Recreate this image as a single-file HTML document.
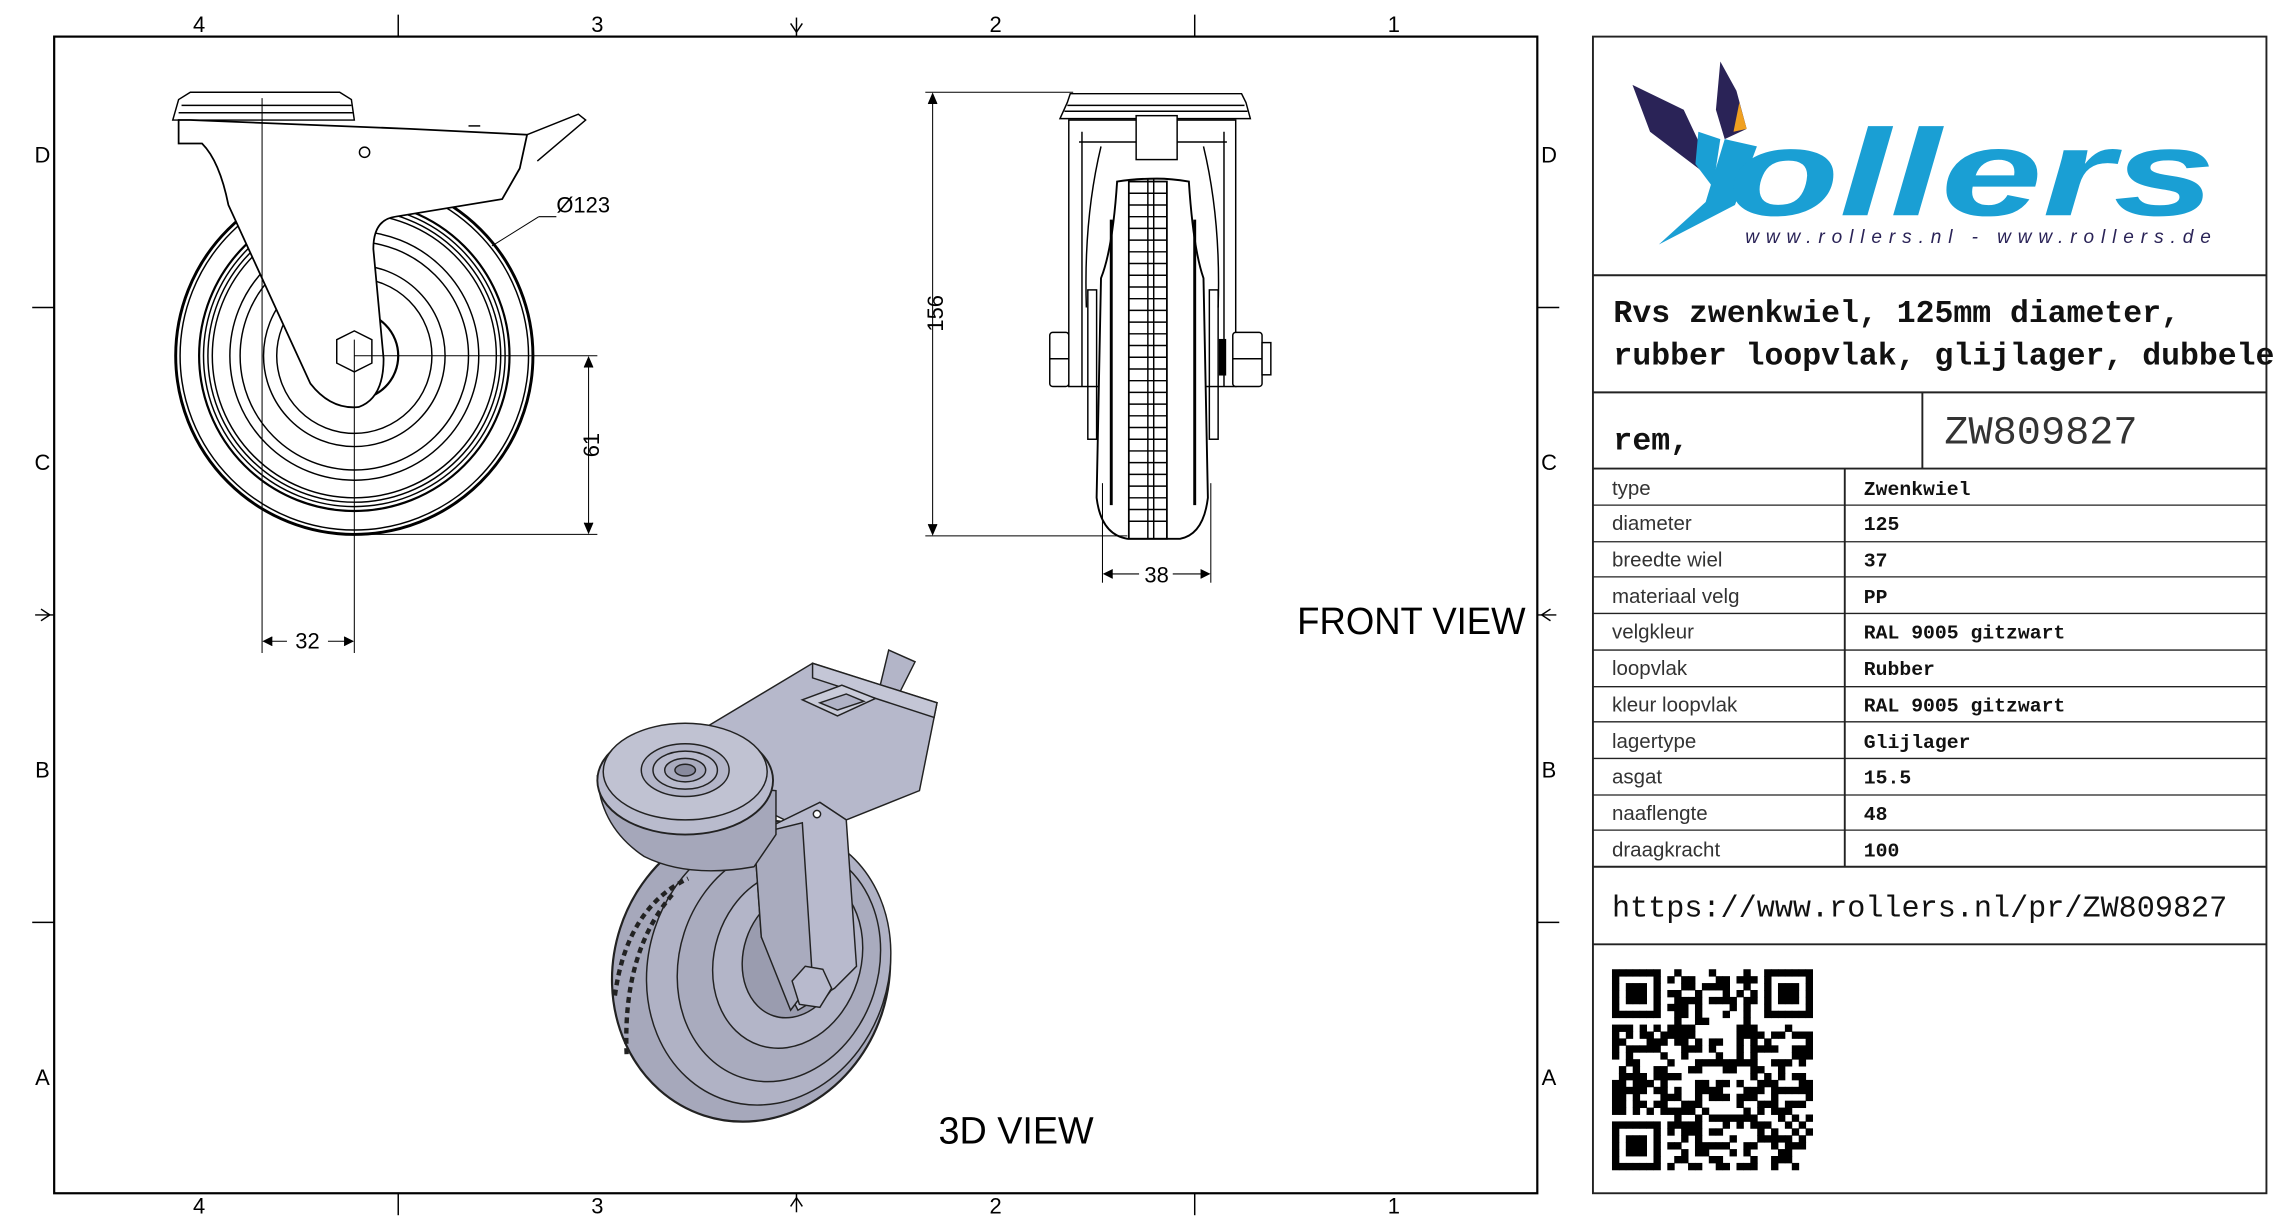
<!DOCTYPE html>
<html><head><meta charset="utf-8"><style>
html,body{margin:0;padding:0;background:#fff;}
svg{display:block;}
</style></head><body>
<svg xmlns="http://www.w3.org/2000/svg" width="2284" height="1224" viewBox="0 0 1560 836" preserveAspectRatio="none">
<rect width="1560" height="836" fill="#fff"/>
<!-- frame -->
<g stroke="#000" fill="none">
<rect x="37" y="25" width="1013" height="790" stroke-width="1.5"/>
<line x1="272" y1="10" x2="272" y2="25"/><line x1="816" y1="10" x2="816" y2="25"/>
<line x1="272" y1="815" x2="272" y2="830"/><line x1="816" y1="815" x2="816" y2="830"/>
<line x1="22" y1="210" x2="37" y2="210"/><line x1="22" y1="630" x2="37" y2="630"/>
<line x1="1050" y1="210" x2="1065" y2="210"/><line x1="1050" y1="630" x2="1065" y2="630"/>
<line x1="544" y1="12" x2="544" y2="25"/><path d="M540,16 L544,22 L548,16"/>
<line x1="544" y1="815" x2="544" y2="828"/><path d="M540,824 L544,818 L548,824"/>
<line x1="24" y1="420" x2="37" y2="420"/><path d="M28,416 L34,420 L28,424"/>
<line x1="1050" y1="420" x2="1063" y2="420"/><path d="M1059,416 L1053,420 L1059,424"/>
</g>
<g font-family="Liberation Sans, sans-serif" font-size="15" fill="#000" text-anchor="middle">
<text x="136" y="22">4</text><text x="408" y="22">3</text><text x="680" y="22">2</text><text x="952" y="22">1</text>
<text x="136" y="829">4</text><text x="408" y="829">3</text><text x="680" y="829">2</text><text x="952" y="829">1</text>
<text x="29" y="111">D</text><text x="29" y="321">C</text><text x="29" y="531">B</text><text x="29" y="741">A</text>
<text x="1058" y="111">D</text><text x="1058" y="321">C</text><text x="1058" y="531">B</text><text x="1058" y="741">A</text>
</g>

<!-- side view -->
<g stroke="#000" fill="none" stroke-width="1">
<circle cx="242" cy="243" r="122" stroke-width="2"/>
<circle cx="242" cy="243" r="119"/>
<circle cx="242" cy="243" r="106" stroke-width="1.5"/>
<circle cx="242" cy="243" r="103"/><circle cx="242" cy="243" r="100"/><circle cx="242" cy="243" r="97"/>
<circle cx="242" cy="243" r="85"/><circle cx="242" cy="243" r="78"/>
<circle cx="242" cy="243" r="62"/><circle cx="242" cy="243" r="53"/>
<circle cx="242" cy="243" r="30" stroke-width="1.5"/>
<path d="M118,82 L122,68 L130,63 L232,63 L240,68 L242,82 Z" fill="#fff"/>
<line x1="124" y1="72" x2="240" y2="72"/><line x1="122" y1="77" x2="241" y2="77"/>
<path d="M122,82 L122,98 L138,98 Q150,110 156,140 L212,262 Q226,280 245,278 Q262,272 262,245 L255,170 Q255,150 270,148 L343,136 L355,115 L360,92 L280,88 L130,82 Z" fill="#fff" stroke-width="1.2"/>
<path d="M360,92 L395,78 L400,82 L367,110"/>
<polygon points="230,232 242,226 254,232 254,248 242,254 230,248" fill="#fff"/>
<circle cx="249" cy="104" r="3.5"/>
<line x1="320" y1="86" x2="328" y2="86"/>
</g>
<g stroke="#000" stroke-width="0.7" fill="none">
<line x1="179" y1="67" x2="179" y2="446"/>
<line x1="242" y1="232" x2="242" y2="446"/>
<line x1="242" y1="243" x2="408" y2="243"/>
<line x1="242" y1="365" x2="408" y2="365"/>
<line x1="402" y1="245" x2="402" y2="363"/>
<path d="M399,251 L402,244 L405,251 M399,357 L402,364 L405,357" fill="#000"/>
<line x1="180" y1="438" x2="196" y2="438"/><line x1="224" y1="438" x2="241" y2="438"/>
<path d="M186,435 L180,438 L186,441 M235,435 L241,438 L235,441" fill="#000"/>
<line x1="336" y1="168" x2="368" y2="148"/><line x1="368" y1="148" x2="380" y2="148"/>
</g>
<g font-family="Liberation Sans, sans-serif" font-size="15" fill="#000">
<text x="380" y="145">Ø123</text>
<text x="210" y="443" text-anchor="middle">32</text>
<text transform="translate(409,304) rotate(-90)" text-anchor="middle">61</text>
</g>

<!-- front view -->
<g stroke="#000" fill="none" stroke-width="1">
<path d="M724,81 L729,70 L731,64 L848,64 L851,70 L854,81 Z" fill="#fff"/>
<line x1="729" y1="72" x2="850" y2="72"/><line x1="727" y1="76" x2="852" y2="76"/>
<rect x="730" y="82" width="114" height="182"/>
<line x1="739" y1="90" x2="739" y2="264"/><line x1="836" y1="90" x2="836" y2="264"/>
<line x1="737" y1="97" x2="838" y2="97"/>
<path d="M752,100 Q740,150 742,210 M822,100 Q834,150 832,210"/>
<rect x="776" y="79" width="28" height="30" fill="#fff"/>
<path d="M763,124 Q760,170 752,190 L749,340 Q752,365 770,368 L806,368 Q822,365 825,340 L822,190 Q815,170 812,124 Q800,122 790,122 Q775,122 763,124 Z" fill="#fff" stroke-width="1.3"/>
<line x1="759" y1="150" x2="759" y2="345" stroke-width="2"/>
<line x1="816" y1="150" x2="816" y2="345" stroke-width="2"/>
<rect x="771" y="124" width="26" height="244" stroke-width="1.2"/>
<line x1="784" y1="122" x2="784" y2="368"/><line x1="788" y1="122" x2="788" y2="368"/>
<rect x="743" y="198" width="6" height="102"/><rect x="826" y="198" width="6" height="102"/>
<rect x="717" y="227" width="13" height="37" rx="2" fill="#fff"/>
<line x1="717" y1="245" x2="730" y2="245"/>
<rect x="842" y="227" width="20" height="37" rx="2" fill="#fff"/>
<rect x="862" y="234" width="6" height="22" fill="#fff"/>
<line x1="842" y1="245" x2="862" y2="245"/>
<rect x="833" y="232" width="4" height="24" fill="#000"/>
</g>
<g stroke="#000" stroke-width="1">
<path d="M771,132 H797 M771,140 H797 M771,148 H797 M771,156 H797 M771,164 H797 M771,172 H797 M771,180 H797 M771,188 H797 M771,196 H797 M771,204 H797 M771,212 H797 M771,220 H797 M771,228 H797 M771,236 H797 M771,244 H797 M771,252 H797 M771,260 H797 M771,268 H797 M771,276 H797 M771,284 H797 M771,292 H797 M771,300 H797 M771,308 H797 M771,316 H797 M771,324 H797 M771,332 H797 M771,340 H797 M771,348 H797 M771,356 H797"/>
</g>
<g stroke="#000" stroke-width="0.7" fill="none">
<line x1="632" y1="63" x2="733" y2="63"/>
<line x1="632" y1="366" x2="770" y2="366"/>
<line x1="637" y1="65" x2="637" y2="364"/>
<path d="M634,71 L637,64 L640,71 M634,358 L637,365 L640,358" fill="#000"/>
<line x1="753" y1="330" x2="753" y2="398"/><line x1="827" y1="330" x2="827" y2="398"/>
<line x1="754" y1="392" x2="778" y2="392"/><line x1="801" y1="392" x2="826" y2="392"/>
<path d="M760,389 L754,392 L760,395 M820,389 L826,392 L820,395" fill="#000"/>
</g>
<g font-family="Liberation Sans, sans-serif" font-size="15" fill="#000">
<text transform="translate(644,214) rotate(-90)" text-anchor="middle">156</text>
<text x="790" y="398" text-anchor="middle">38</text>
</g>
<text x="886" y="433" font-family="Liberation Sans, sans-serif" font-size="26" fill="#000" textLength="156" lengthAdjust="spacingAndGlyphs">FRONT VIEW</text>
<text x="641" y="781" font-family="Liberation Sans, sans-serif" font-size="26" fill="#000" textLength="106" lengthAdjust="spacingAndGlyphs">3D VIEW</text>

<!-- 3D view -->
<g stroke="#222" stroke-width="1" fill="#b3b5c8">
<polygon points="607,444 625,452 612,478 600,473"/>
<ellipse cx="513" cy="663" rx="94" ry="104" transform="rotate(18 513 663)" fill="#a6a8bb" stroke-width="1.5"/>
<ellipse cx="525" cy="660" rx="82" ry="96" transform="rotate(18 525 660)" fill="#b0b2c5"/>
<ellipse cx="532" cy="658" rx="68" ry="82" transform="rotate(18 532 658)" fill="#a9abbe"/>
<ellipse cx="538" cy="655" rx="50" ry="62" transform="rotate(18 538 655)" fill="#b3b5c8"/>
<ellipse cx="542" cy="652" rx="34" ry="44" transform="rotate(18 542 652)" fill="#9a9caf"/>
<path d="M420,680 Q428,620 470,600" fill="none" stroke-dasharray="4 3" stroke-width="3"/>
<path d="M428,720 Q425,650 460,610" fill="none" stroke-dasharray="4 3" stroke-width="3"/>
<polygon points="480,498 555,453 640,480 628,540 578,560 560,548 540,562 495,540" fill="#b6b8cb"/>
<polygon points="555,453 640,480 638,490 555,463" fill="#c4c6d6"/>
<polygon points="548,478 575,468 598,477 572,489" fill="#c9cbd9"/>
<polygon points="560,480 578,474 590,479 572,485" fill="#b0b2c5"/>
<polygon points="515,570 560,548 578,560 585,660 570,675 545,690 520,640" fill="#b8bacd"/>
<polygon points="515,570 548,562 555,670 540,690 520,640" fill="#a9abbe"/>
<polygon points="541,670 550,660 562,662 568,675 560,688 546,686" fill="#b8bacd"/>
<path d="M408,530 Q410,565 440,585 Q470,600 515,592 L530,570 L530,540 Z" fill="#a5a7ba"/>
<ellipse cx="468" cy="533" rx="60" ry="37" fill="#b9bbcd" stroke-width="1.3"/>
<ellipse cx="468" cy="527" rx="56" ry="33" fill="#c0c2d2"/>
<ellipse cx="468" cy="526" rx="30" ry="18" fill="#b3b5c8"/>
<ellipse cx="468" cy="526" rx="22" ry="13" fill="#b9bbcd"/>
<ellipse cx="468" cy="526" rx="14" ry="8" fill="#a9abbe"/>
<ellipse cx="468" cy="526" rx="7" ry="4" fill="#888a9d"/>
<circle cx="558" cy="556" r="2.5" fill="#fff"/>
</g>

<!-- right panel -->
<g stroke="#222" stroke-width="1.3" fill="none">
<rect x="1088" y="25" width="460" height="790"/>
<line x1="1088" y1="188" x2="1548" y2="188"/>
<line x1="1088" y1="268" x2="1548" y2="268"/>
<line x1="1088" y1="320" x2="1548" y2="320"/>
<line x1="1313" y1="268" x2="1313" y2="320"/>
<line x1="1260" y1="320" x2="1260" y2="592"/>
<line x1="1088" y1="592" x2="1548" y2="592"/>
<line x1="1088" y1="645" x2="1548" y2="645"/>
</g>
<g stroke="#222" stroke-width="0.9">
<line x1="1088" y1="345" x2="1548" y2="345"/><line x1="1088" y1="370" x2="1548" y2="370"/>
<line x1="1088" y1="394" x2="1548" y2="394"/><line x1="1088" y1="419" x2="1548" y2="419"/>
<line x1="1088" y1="444" x2="1548" y2="444"/><line x1="1088" y1="469" x2="1548" y2="469"/>
<line x1="1088" y1="493" x2="1548" y2="493"/><line x1="1088" y1="518" x2="1548" y2="518"/>
<line x1="1088" y1="543" x2="1548" y2="543"/><line x1="1088" y1="567" x2="1548" y2="567"/>
</g>
<!-- logo -->
<polygon points="1115,58 1150,75 1175,128 1160,115 1127,90" fill="#2a2357"/>
<polygon points="1175,42 1186,62 1193,88 1178,95 1172,75" fill="#2a2357"/>
<polygon points="1188,70 1193,88 1184,90" fill="#f0a020"/>
<polygon points="1160,90 1175,95 1170,128 1158,112" fill="#1a9fd4"/>
<polygon points="1178,95 1200,100 1185,140 1133,167 1165,138" fill="#1a9fd4"/>
<text x="1180" y="147" font-family="Liberation Sans, sans-serif" font-weight="bold" font-style="italic" font-size="84" fill="#1a9fd4" textLength="333" lengthAdjust="spacingAndGlyphs">ollers</text>
<text x="1192" y="166" font-family="Liberation Sans, sans-serif" font-style="italic" font-size="13" fill="#2a2357" textLength="318" lengthAdjust="spacing">www.rollers.nl  -  www.rollers.de</text>
<!-- title -->
<g font-family="Liberation Mono, monospace" font-weight="bold" font-size="21.5" fill="#111">
<text x="1102" y="220">Rvs zwenkwiel, 125mm diameter,</text>
<text x="1102" y="249">rubber loopvlak, glijlager, dubbele</text>
<text x="1102" y="307">rem,</text>
</g>
<text x="1328" y="303" font-family="Liberation Mono, monospace" font-size="27" fill="#333" textLength="132" lengthAdjust="spacingAndGlyphs">ZW809827</text>
<g font-family="Liberation Sans, sans-serif" font-size="14" fill="#333">
<text x="1101" y="338">type</text><text x="1101" y="362">diameter</text><text x="1101" y="387">breedte wiel</text>
<text x="1101" y="412">materiaal velg</text><text x="1101" y="436">velgkleur</text><text x="1101" y="461">loopvlak</text>
<text x="1101" y="486">kleur loopvlak</text><text x="1101" y="511">lagertype</text><text x="1101" y="535">asgat</text>
<text x="1101" y="560">naaflengte</text><text x="1101" y="585">draagkracht</text>
</g>
<g font-family="Liberation Mono, monospace" font-weight="bold" font-size="13.5" fill="#111">
<text x="1273" y="338">Zwenkwiel</text><text x="1273" y="362">125</text><text x="1273" y="387">37</text>
<text x="1273" y="412">PP</text><text x="1273" y="436">RAL 9005 gitzwart</text><text x="1273" y="461">Rubber</text>
<text x="1273" y="486">RAL 9005 gitzwart</text><text x="1273" y="511">Glijlager</text><text x="1273" y="535">15.5</text>
<text x="1273" y="560">48</text><text x="1273" y="585">100</text>
</g>
<text x="1101" y="626" font-family="Liberation Mono, monospace" font-size="20.6" fill="#111">https://www.rollers.nl/pr/ZW809827</text>
<!-- QR -->
<g id="qr" fill="#000"></g>
</svg>
<script>
(function(){
var g=document.getElementById('qr'),N=29,x0=1101,y0=662,m=137/29,s='';
function fin(r,c){return (r<7&&c<7)||(r<7&&c>=N-7)||(r>=N-7&&c<7);}
var seed=12345;function rnd(){seed=(seed*1103515245+12345)&0x7fffffff;return seed/0x7fffffff;}
for(var r=0;r<N;r++)for(var c=0;c<N;c++){var on;
 if(fin(r,c)){var rr=r<7?r:r-(N-7),cc=c<7?c:c-(N-7);
  on=(rr==0||rr==6||cc==0||cc==6)||(rr>=2&&rr<=4&&cc>=2&&cc<=4);}
 else if((r==7&&(c<8||c>=N-8))||(c==7&&(r<8||r>=N-8))||(r==N-8&&c<8)||(c==N-8&&r<8))on=false;
 else on=rnd()<0.5;
 if(on)s+='<rect x="'+(x0+c*m)+'" y="'+(y0+r*m)+'" width="'+(m+0.3)+'" height="'+(m+0.3)+'"/>';}
g.innerHTML=s;})();
</script>
</body></html>
